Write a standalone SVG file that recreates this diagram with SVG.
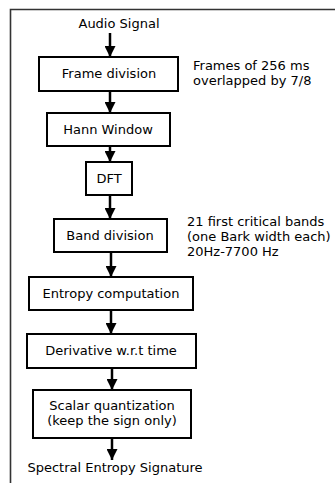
<svg xmlns="http://www.w3.org/2000/svg" width="335" height="483" viewBox="0 0 335 483">
<style>
text{font-family:"DejaVu Sans",sans-serif;font-size:13px;fill:#000}
.c{text-anchor:middle}
.box{fill:#fff;stroke:#000;stroke-width:2}
.ln{stroke:#000;stroke-width:2.5;fill:none}
</style>
<defs>
<marker id="ah" markerUnits="userSpaceOnUse" markerWidth="12" markerHeight="11" refX="11" refY="5.5" orient="auto">
<path d="M0,0 L11,5.5 L0,11 Z" fill="#000"/>
</marker>
</defs>
<rect width="335" height="483" fill="#fff"/>
<path d="M10.5,483 V9.5 H335" fill="none" stroke="#333" stroke-width="1.6"/>
<g id="connectors">
<line class="ln" x1="110" y1="33" x2="110" y2="57" marker-end="url(#ah)"/>
<line class="ln" x1="110" y1="91" x2="110" y2="113" marker-end="url(#ah)"/>
<line class="ln" x1="110" y1="146" x2="110" y2="162" marker-end="url(#ah)"/>
<line class="ln" x1="110" y1="195" x2="110" y2="219" marker-end="url(#ah)"/>
<line class="ln" x1="111" y1="252" x2="111" y2="277" marker-end="url(#ah)"/>
<line class="ln" x1="111" y1="310" x2="111" y2="334" marker-end="url(#ah)"/>
<line class="ln" x1="112" y1="368" x2="112" y2="390" marker-end="url(#ah)"/>
<line class="ln" x1="112" y1="438" x2="112" y2="460" marker-end="url(#ah)"/>
</g>
<g id="input"><text class="c" x="119" y="28">Audio Signal</text></g>
<g id="frame">
<rect class="box" x="39" y="57" width="139" height="34"/>
<text class="c" x="109" y="78">Frame division</text>
</g>
<g id="frame-note">
<text x="193" y="70">Frames of 256 ms</text>
<text x="193" y="85">overlapped by 7/8</text>
</g>
<g id="hann">
<rect class="box" x="47" y="113" width="123" height="33"/>
<text class="c" x="108" y="134">Hann Window</text>
</g>
<g id="dft">
<rect class="box" x="86" y="162" width="46" height="33"/>
<text class="c" x="109" y="183">DFT</text>
</g>
<g id="band">
<rect class="box" x="54" y="219" width="113" height="33"/>
<text class="c" x="110" y="240">Band division</text>
</g>
<g id="band-note">
<text x="187" y="226">21 first critical bands</text>
<text x="187" y="241">(one Bark width each)</text>
<text x="187" y="256">20Hz-7700 Hz</text>
</g>
<g id="entropy">
<rect class="box" x="29" y="277" width="164" height="33"/>
<text class="c" x="111" y="298">Entropy computation</text>
</g>
<g id="derivative">
<rect class="box" x="27" y="334" width="169" height="34"/>
<text class="c" x="111" y="355">Derivative w.r.t time</text>
</g>
<g id="quant">
<rect class="box" x="33" y="390" width="158" height="48"/>
<text class="c" x="112" y="410">Scalar quantization</text>
<text class="c" x="112" y="425">(keep the sign only)</text>
</g>
<g id="output"><text class="c" x="115" y="472">Spectral Entropy Signature</text></g>
</svg>
